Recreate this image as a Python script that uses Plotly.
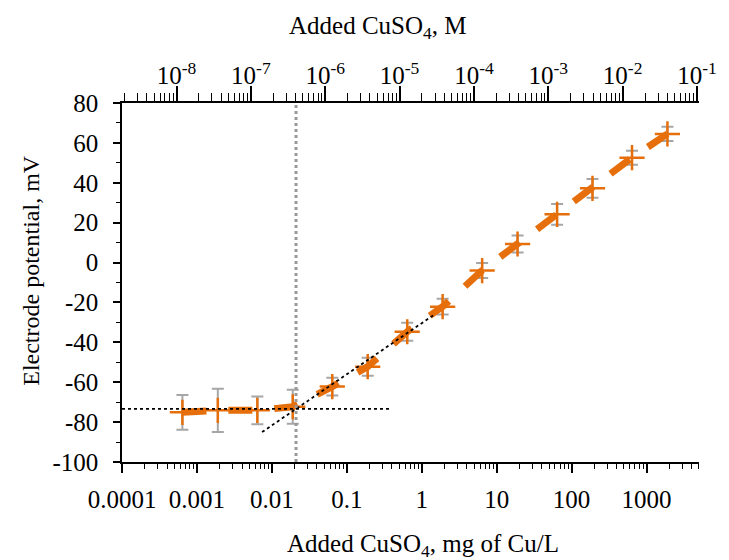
import plotly.graph_objects as go

# ---- data ----
cu_mg_per_L = [0.00064, 0.0019, 0.0064, 0.019, 0.064, 0.19, 0.64, 1.9, 6.4, 19, 64, 190, 640, 1900]
cuso4_M = [1e-8, 3e-8, 1e-7, 3e-7, 1e-6, 3e-6, 1e-5, 3e-5, 1e-4, 3e-4, 1e-3, 3e-3, 1e-2, 3e-2]
potential_mV = [-75.1, -74.1, -74.1, -72.3, -62.2, -52.2, -34.7, -22.1, -4.0, 9.3, 24.2, 37.2, 52.6, 64.5]
potential_err = [8.7, 10.8, 7.0, 8.5, 4.4, 4.5, 4.5, 4.0, 3.8, 4.3, 5.2, 4.7, 3.5, 3.6]

baseline_x = [0.0001, 0.37]
baseline_y = [-73.4, -73.4]
slope_x = [0.0074, 1.47]
slope_y = [-85.0, -26.1]
threshold_x = 0.021

top_tickvals = [1e-8, 1e-7, 1e-6, 1e-5, 1e-4, 1e-3, 1e-2, 1e-1]
top_ticktext = ["10<sup>-8</sup>", "10<sup>-7</sup>", "10<sup>-6</sup>", "10<sup>-5</sup>",
                "10<sup>-4</sup>", "10<sup>-3</sup>", "10<sup>-2</sup>", "10<sup>-1</sup>"]
bottom_tickvals = [0.0001, 0.001, 0.01, 0.1, 1, 10, 100, 1000]
bottom_ticktext = ["0.0001", "0.001", "0.01", "0.1", "1", "10", "100", "1000"]
y_tickvals = [-100, -80, -60, -40, -20, 0, 20, 40, 60, 80]
y_ticktext = ["-100", "-80", "-60", "-40", "-20", "0", "20", "40", "60", "80"]

ORANGE = "#E66F0B"
GRAY = "#A6A6A6"
FONT = "Liberation Serif"
TICK = 25

fig = go.Figure()

fig.add_trace(go.Scatter(
    x=cu_mg_per_L, y=potential_mV, mode="lines",
    line=dict(color=ORANGE, width=7, dash="24px,22px"),
    error_y=dict(type="data", array=potential_err, color=GRAY, thickness=2, width=6),
    showlegend=False, hoverinfo="skip"))

fig.add_trace(go.Scatter(
    x=cu_mg_per_L, y=potential_mV, mode="markers",
    marker=dict(symbol="cross-thin", size=18, line=dict(color=ORANGE, width=2.5)),
    showlegend=False))

fig.add_trace(go.Scatter(
    x=baseline_x, y=baseline_y, mode="lines",
    line=dict(color="black", width=1.8, dash="dot"), showlegend=False, hoverinfo="skip"))

fig.add_trace(go.Scatter(
    x=slope_x, y=slope_y, mode="lines",
    line=dict(color="black", width=1.8, dash="dot"), showlegend=False, hoverinfo="skip"))

fig.add_trace(go.Scatter(
    x=cuso4_M, y=potential_mV, mode="markers", xaxis="x2",
    marker=dict(opacity=0), showlegend=False, hoverinfo="skip"))

fig.add_shape(type="line", xref="x", yref="paper", x0=threshold_x, x1=threshold_x, y0=0, y1=1,
              line=dict(color="#999999", width=3, dash="3px,3px"))

fig.update_layout(
    width=721, height=552,
    margin=dict(l=114, r=25, t=95, b=98),
    paper_bgcolor="white", plot_bgcolor="white",
    font=dict(family=FONT, size=TICK, color="black"),
    xaxis=dict(
        type="log", range=[-4, 3.70],
        tickvals=bottom_tickvals, ticktext=bottom_ticktext,
        ticks="outside", ticklen=9, tickwidth=1.5, tickcolor="black",
        minor=dict(ticks="outside", ticklen=5, tickwidth=1.2, tickcolor="black", dtick="D1", showgrid=False),
        showline=True, linecolor="black", linewidth=1.5,
        showgrid=False, zeroline=False, ticklabelstandoff=5,
        tickfont=dict(family=FONT, size=TICK)),
    xaxis2=dict(
        type="log", range=[-8.733, -0.973], overlaying="x", side="top",
        tickvals=top_tickvals, ticktext=top_ticktext,
        ticks="outside", ticklen=15, tickwidth=1.5, tickcolor="black",
        minor=dict(ticks="outside", ticklen=8, tickwidth=1.2, tickcolor="black", dtick="D1", showgrid=False),
        showline=True, linecolor="black", linewidth=1.5,
        showgrid=False, zeroline=False, ticklabelstandoff=-8,
        tickfont=dict(family=FONT, size=TICK)),
    yaxis=dict(
        range=[-100, 80], tickvals=y_tickvals, ticktext=y_ticktext,
        ticks="outside", ticklen=7, tickwidth=1.5, tickcolor="black",
        minor=dict(ticks="outside", ticklen=4, tickwidth=1.2, tickcolor="black", dtick=10, showgrid=False),
        showline=True, linecolor="black", linewidth=1.5,
        showgrid=False, zeroline=False, ticklabelstandoff=10,
        tickfont=dict(family=FONT, size=TICK)),
    annotations=[
        dict(text="Added CuSO<sub>4</sub>, mg of Cu/L", xref="paper", yref="paper",
             x=0.522, y=-0.232, xanchor="center", yanchor="middle", showarrow=False,
             font=dict(family=FONT, size=25)),
        dict(text="Added CuSO<sub>4</sub>, M", xref="paper", yref="paper",
             x=0.443, y=1.21, xanchor="center", yanchor="middle", showarrow=False,
             font=dict(family=FONT, size=25)),
        dict(text="Electrode potential, mV", xref="paper", yref="paper",
             x=-0.158, y=0.535, xanchor="center", yanchor="middle", showarrow=False,
             textangle=-90, font=dict(family=FONT, size=24)),
    ],
)

fig.write_html("out.html")
